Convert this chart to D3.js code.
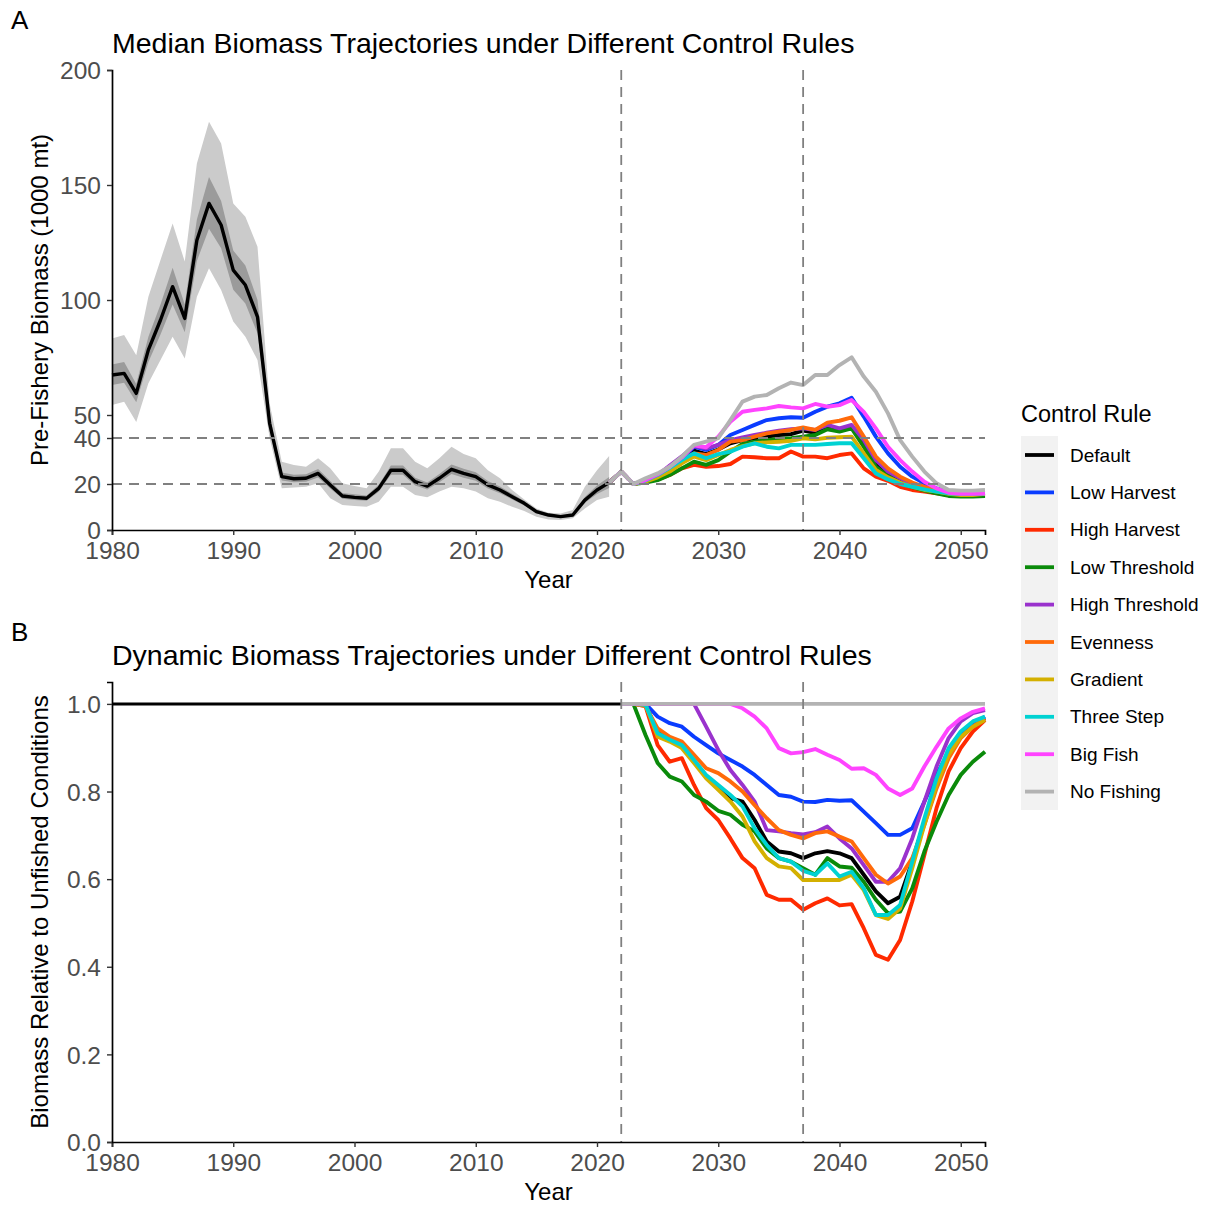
<!DOCTYPE html>
<html>
<head>
<meta charset="utf-8">
<script src="https://cdn.jsdelivr.net/npm/d3@7"></script>
<style>
  body { margin: 0; background: #fff; }
  svg { font-family: "Liberation Sans", Arial, Helvetica, sans-serif; }
</style>
</head>
<body>
<div id="chart"></div>
<script>
// ---- data ----
var histYears = d3.range(1980, 2022);
var histMedian = [67.4, 68.1, 59.4, 78.3, 91.3, 105.8, 92.0, 126.0, 142.0, 132.6, 113.0, 106.5, 92.7, 46.4, 23.2, 22.3, 22.5, 24.6, 19.6, 14.8, 14.2, 13.8, 18.1, 26.0, 26.0, 21.0, 19.1, 22.5, 26.4, 24.6, 23.2, 19.6, 17.4, 14.5, 11.6, 8.0, 6.5, 5.8, 6.5, 13.0, 17.4, 20.6];
var histOuterLow = [54.3, 55.8, 47.0, 63.8, 73.9, 84.0, 74.6, 101.4, 113.8, 104.3, 90.6, 84.0, 73.9, 40.0, 18.1, 18.5, 18.8, 20.3, 13.8, 10.9, 10.4, 10.1, 12.3, 18.8, 18.8, 15.2, 14.2, 16.7, 18.8, 18.1, 16.7, 13.8, 12.3, 10.1, 8.3, 5.8, 4.6, 4.3, 5.1, 9.4, 13.0, 14.5];
var histOuterHigh = [83.3, 84.8, 76.0, 101.4, 117.4, 133.3, 116.7, 159.4, 177.5, 168.0, 142.0, 136.2, 123.2, 55.0, 29.7, 28.3, 27.5, 31.2, 26.8, 20.3, 19.1, 18.1, 25.4, 35.5, 35.5, 29.7, 26.8, 31.2, 36.2, 33.0, 31.2, 26.0, 22.5, 17.4, 13.3, 9.4, 7.5, 7.2, 8.7, 18.8, 26.0, 32.2];
var histInnerLow = [63.0, 64.0, 55.5, 73.0, 85.0, 98.0, 86.0, 117.0, 131.0, 122.5, 104.5, 98.5, 85.5, 43.0, 21.5, 20.8, 21.0, 22.8, 18.0, 13.6, 13.0, 12.7, 16.6, 24.0, 24.0, 19.4, 17.6, 20.8, 24.3, 22.7, 21.4, 18.0, 16.0, 13.3, 10.7, 7.3, 5.9, 5.3, 5.9, 11.8, 15.6, 18.3];
var histInnerHigh = [72.0, 73.0, 63.5, 84.0, 98.0, 114.0, 98.0, 135.0, 153.5, 143.0, 121.5, 115.0, 100.0, 50.0, 25.0, 24.0, 24.2, 26.5, 21.3, 16.1, 15.5, 15.0, 19.7, 28.0, 28.0, 22.7, 20.7, 24.3, 28.5, 26.6, 25.1, 21.3, 18.9, 15.8, 12.6, 8.8, 7.1, 6.3, 7.1, 14.3, 19.4, 23.0];

// projections, panel A (1000 mt), 2021-2052
var projYearsA = d3.range(2021, 2053);
var defaultA = [20.6, 25.4, 20.0, 21.5, 23.5, 26.5, 30.5, 34.5, 33.0, 35.0, 37.7, 39.1, 39.9, 40.6, 41.3, 41.7, 43.2, 42.3, 44.2, 43.5, 44.9, 37.7, 29.0, 24.6, 21.7, 19.6, 18.1, 16.7, 15.7, 15.2, 15.2, 15.2];
var lowHarvestA = [20.6, 25.4, 20.0, 21.7, 23.9, 27.0, 31.0, 36.2, 34.8, 37.0, 41.3, 43.5, 45.7, 47.8, 48.6, 49.0, 48.8, 51.4, 53.6, 55.1, 57.5, 49.3, 40.6, 33.3, 27.5, 23.2, 20.3, 18.1, 16.7, 15.9, 15.9, 16.2];
var highHarvestA = [20.6, 25.4, 20.0, 21.0, 22.0, 23.9, 26.8, 28.3, 27.5, 27.8, 28.7, 31.9, 31.6, 31.2, 31.2, 34.1, 31.9, 31.9, 31.2, 32.6, 33.3, 26.8, 23.2, 21.4, 18.8, 17.4, 16.7, 15.9, 15.2, 14.8, 14.8, 15.2];
var lowThresholdA = [20.6, 25.4, 20.0, 20.6, 21.7, 23.9, 26.8, 29.7, 28.3, 30.4, 34.1, 37.4, 38.4, 39.1, 39.6, 39.9, 40.6, 41.3, 43.8, 42.8, 44.2, 36.2, 27.5, 23.5, 20.6, 18.6, 17.1, 15.9, 14.8, 14.5, 14.5, 14.8];
var highThresholdA = [20.6, 25.4, 20.0, 21.5, 23.9, 28.0, 32.0, 36.5, 35.5, 37.0, 39.1, 40.3, 41.3, 42.3, 43.2, 43.8, 44.2, 43.5, 45.7, 44.2, 45.7, 39.1, 30.4, 25.4, 22.5, 20.0, 18.6, 17.1, 16.2, 15.7, 15.7, 15.9];
var evennessA = [20.6, 25.4, 20.0, 21.3, 23.5, 26.8, 30.4, 33.3, 32.6, 34.8, 38.4, 39.1, 40.6, 42.0, 42.8, 43.5, 44.6, 43.5, 46.7, 47.5, 49.0, 40.6, 31.9, 26.8, 23.2, 20.6, 18.8, 17.4, 16.2, 15.7, 15.7, 15.9];
var gradientA = [20.6, 25.4, 20.0, 21.0, 22.9, 25.4, 29.0, 31.9, 30.4, 32.6, 34.8, 36.5, 37.7, 38.1, 38.4, 38.8, 39.9, 39.4, 40.1, 40.3, 40.6, 33.3, 26.1, 22.9, 20.6, 18.8, 17.4, 16.7, 15.7, 15.2, 15.2, 15.7];
var threeStepA = [20.6, 25.4, 20.0, 21.5, 23.9, 27.0, 30.4, 33.3, 31.2, 33.0, 34.1, 36.2, 37.7, 36.2, 35.5, 37.0, 37.0, 37.0, 37.4, 37.7, 37.7, 31.2, 24.6, 22.0, 20.0, 18.8, 17.7, 16.7, 15.9, 15.7, 15.7, 15.9];
var bigFishA = [20.6, 25.4, 20.0, 21.7, 24.2, 27.5, 31.5, 36.8, 36.0, 40.6, 47.1, 51.4, 52.2, 52.9, 53.9, 53.3, 52.9, 54.8, 53.6, 54.3, 56.5, 51.4, 44.2, 36.2, 30.4, 25.4, 21.0, 18.1, 16.2, 15.7, 15.7, 15.9];
var noFishingA = [20.6, 25.4, 20.0, 22.5, 24.6, 27.5, 31.9, 37.0, 38.4, 39.9, 47.8, 55.8, 58.0, 58.7, 61.6, 64.1, 63.0, 67.4, 67.4, 71.7, 75.1, 66.7, 60.1, 50.7, 39.1, 31.9, 25.4, 20.3, 17.4, 17.1, 17.1, 17.4];

// panel B: relative to unfished
var histRelYears = [1980, 2022];
var histRel = [1.0, 1.0];
var projYearsB = d3.range(2022, 2053);
var defaultB = [1.0, 1.0, 0.998, 0.935, 0.920, 0.907, 0.870, 0.835, 0.810, 0.785, 0.777, 0.735, 0.686, 0.663, 0.659, 0.648, 0.659, 0.664, 0.659, 0.648, 0.610, 0.572, 0.545, 0.560, 0.640, 0.731, 0.823, 0.891, 0.929, 0.952, 0.967];
var lowHarvestB = [1.0, 1.0, 1.0, 0.971, 0.956, 0.948, 0.925, 0.906, 0.887, 0.872, 0.857, 0.838, 0.815, 0.792, 0.788, 0.777, 0.776, 0.781, 0.779, 0.780, 0.754, 0.728, 0.701, 0.701, 0.716, 0.777, 0.838, 0.891, 0.929, 0.952, 0.971];
var highHarvestB = [1.0, 1.0, 0.995, 0.906, 0.868, 0.876, 0.815, 0.762, 0.735, 0.693, 0.648, 0.625, 0.564, 0.553, 0.553, 0.530, 0.545, 0.556, 0.540, 0.543, 0.488, 0.427, 0.416, 0.461, 0.549, 0.655, 0.762, 0.846, 0.899, 0.937, 0.963];
var lowThresholdB = [1.0, 1.0, 0.929, 0.865, 0.834, 0.823, 0.792, 0.777, 0.756, 0.747, 0.724, 0.709, 0.670, 0.648, 0.640, 0.625, 0.610, 0.648, 0.629, 0.626, 0.594, 0.553, 0.522, 0.526, 0.579, 0.663, 0.731, 0.792, 0.838, 0.868, 0.891];
var highThresholdB = [1.0, 1.0, 1.0, 1.0, 1.0, 1.0, 1.0, 0.948, 0.895, 0.849, 0.815, 0.777, 0.712, 0.709, 0.705, 0.702, 0.707, 0.720, 0.693, 0.670, 0.632, 0.594, 0.594, 0.625, 0.693, 0.777, 0.857, 0.922, 0.960, 0.979, 0.986];
var evennessB = [1.0, 1.0, 0.995, 0.944, 0.925, 0.914, 0.884, 0.853, 0.842, 0.823, 0.800, 0.769, 0.739, 0.712, 0.701, 0.693, 0.705, 0.709, 0.697, 0.686, 0.648, 0.610, 0.590, 0.606, 0.648, 0.724, 0.807, 0.876, 0.922, 0.948, 0.967];
var gradientB = [1.0, 1.0, 0.998, 0.925, 0.914, 0.899, 0.865, 0.830, 0.804, 0.777, 0.743, 0.686, 0.648, 0.629, 0.625, 0.598, 0.598, 0.598, 0.598, 0.610, 0.575, 0.518, 0.509, 0.533, 0.625, 0.724, 0.815, 0.884, 0.925, 0.948, 0.963];
var threeStepB = [1.0, 1.0, 0.998, 0.933, 0.918, 0.906, 0.872, 0.838, 0.815, 0.792, 0.766, 0.716, 0.678, 0.648, 0.640, 0.619, 0.610, 0.636, 0.606, 0.617, 0.579, 0.518, 0.518, 0.541, 0.640, 0.739, 0.830, 0.899, 0.937, 0.960, 0.971];
var bigFishB = [1.0, 1.0, 1.0, 1.0, 1.0, 1.0, 1.0, 1.0, 1.0, 1.0, 0.990, 0.971, 0.944, 0.899, 0.887, 0.890, 0.897, 0.884, 0.872, 0.852, 0.853, 0.838, 0.807, 0.792, 0.807, 0.857, 0.902, 0.944, 0.967, 0.982, 0.990];
var noFishingB = [1.0, 1.0, 1.0, 1.0, 1.0, 1.0, 1.0, 1.0, 1.0, 1.0, 1.0, 1.0, 1.0, 1.0, 1.0, 1.0, 1.0, 1.0, 1.0, 1.0, 1.0, 1.0, 1.0, 1.0, 1.0, 1.0, 1.0, 1.0, 1.0, 1.0, 1.0];

var rules = ["Default", "Low Harvest", "High Harvest", "Low Threshold", "High Threshold", "Evenness", "Gradient", "Three Step", "Big Fish", "No Fishing"];
var seriesA = [defaultA, lowHarvestA, highHarvestA, lowThresholdA, highThresholdA, evennessA, gradientA, threeStepA, bigFishA, noFishingA];
var seriesB = [defaultB, lowHarvestB, highHarvestB, lowThresholdB, highThresholdB, evennessB, gradientB, threeStepB, bigFishB, noFishingB];

var xTicks = [1980, 1990, 2000, 2010, 2020, 2030, 2040, 2050];
var yTicksA = [0, 20, 40, 50, 100, 150, 200];
var yTicksB = [0, 0.2, 0.4, 0.6, 0.8, 1.0];
var refLinesA = [20, 40];
var refYears = [2022, 2037];

// styling
var colors = ["#000000", "#0a3cff", "#ff2a00", "#0a8a0a", "#9a32cd", "#ff6a0a", "#d4b000", "#00d2d2", "#ff44ff", "#b3b3b3"];
var svgWidth = 1206, svgHeight = 1207;
var left = 112, right = 985;

var svg = d3.select("#chart").append("svg")
  .attr("width", svgWidth)
  .attr("height", svgHeight);

var x = d3.scaleLinear().domain([1980, 2052]).range([left, right]);

function drawAxes(y, top, bottom, yTicks, yFmt, yTitle) {
  var gx = svg.append("g")
    .attr("transform", `translate(0, ${bottom})`)
    .call(d3.axisBottom(x).tickValues(xTicks).tickSize(5).tickPadding(7).tickFormat(d3.format("d")));
  var gy = svg.append("g")
    .attr("transform", `translate(${left}, 0)`)
    .call(d3.axisLeft(y).tickValues(yTicks).tickSize(5).tickPadding(6).tickFormat(yFmt));
  [gx, gy].forEach(function(g) {
    g.select(".domain").attr("stroke", "#000").attr("stroke-width", 1.7);
    g.selectAll(".tick line").attr("stroke", "#333").attr("stroke-width", 1.4);
    g.selectAll(".tick text").attr("fill", "#4d4d4d").attr("font-size", "24.5px");
  });
  gy.selectAll(".tick text").attr("dy", "0.36em");

  svg.append("text")
    .attr("x", (left + right) / 2)
    .attr("y", bottom + 58)
    .attr("text-anchor", "middle")
    .attr("font-size", "24px")
    .attr("fill", "#000")
    .text("Year");

  svg.append("text")
    .attr("transform", `translate(48, ${(top + bottom) / 2}) rotate(-90)`)
    .attr("text-anchor", "middle")
    .attr("font-size", "24px")
    .attr("fill", "#000")
    .text(yTitle);
}

function dashed(x1, y1, x2, y2) {
  svg.append("line")
    .attr("x1", x1).attr("y1", y1).attr("x2", x2).attr("y2", y2)
    .attr("stroke", "#808080")
    .attr("stroke-width", 1.8)
    .attr("stroke-dasharray", "10,7");
}

// ================= Panel A =================
var yA = d3.scaleLinear().domain([0, 200]).range([530, 70]);

svg.append("text").attr("x", 11).attr("y", 29).attr("font-size", "26px").text("A");
svg.append("text").attr("x", left).attr("y", 53).attr("font-size", "28.5px").text("Median Biomass Trajectories under Different Control Rules");

var hist = histYears.map(function(yr, i) {
  return { year: yr, med: histMedian[i], lo: histOuterLow[i], hi: histOuterHigh[i], ilo: histInnerLow[i], ihi: histInnerHigh[i] };
});

svg.append("path")
  .datum(hist)
  .attr("fill", "#cbcbcb")
  .attr("d", d3.area().x(d => x(d.year)).y0(d => yA(d.lo)).y1(d => yA(d.hi)));

svg.append("path")
  .datum(hist)
  .attr("fill", "#9b9b9b")
  .attr("d", d3.area().x(d => x(d.year)).y0(d => yA(d.ilo)).y1(d => yA(d.ihi)));

svg.append("path")
  .datum(hist)
  .attr("fill", "none")
  .attr("stroke", "#000")
  .attr("stroke-width", 3.4)
  .attr("stroke-linejoin", "round")
  .attr("d", d3.line().x(d => x(d.year)).y(d => yA(d.med)));

var lineA = d3.line().x((d, i) => x(projYearsA[i])).y(d => yA(d));
seriesA.forEach(function(s, k) {
  svg.append("path")
    .datum(s)
    .attr("fill", "none")
    .attr("stroke", colors[k])
    .attr("stroke-width", 3.9)
    .attr("stroke-linejoin", "round")
    .attr("d", lineA);
});

refLinesA.forEach(function(v) { dashed(left, yA(v), right, yA(v)); });
refYears.forEach(function(yr) { dashed(x(yr), 70, x(yr), 530); });

drawAxes(yA, 70, 530, yTicksA, d3.format("d"), "Pre-Fishery Biomass (1000 mt)");

// ================= Panel B =================
var yB = d3.scaleLinear().domain([0, 1.05]).range([1142, 682]);

svg.append("text").attr("x", 11).attr("y", 641).attr("font-size", "26px").text("B");
svg.append("text").attr("x", left).attr("y", 665).attr("font-size", "28.5px").text("Dynamic Biomass Trajectories under Different Control Rules");

svg.append("path")
  .datum(histRel)
  .attr("fill", "none")
  .attr("stroke", "#000")
  .attr("stroke-width", 3)
  .attr("d", d3.line().x((d, i) => x(histRelYears[i])).y(d => yB(d)));

var lineB = d3.line().x((d, i) => x(projYearsB[i])).y(d => yB(d));
seriesB.forEach(function(s, k) {
  svg.append("path")
    .datum(s)
    .attr("fill", "none")
    .attr("stroke", colors[k])
    .attr("stroke-width", 3.9)
    .attr("stroke-linejoin", "round")
    .attr("d", lineB);
});

refYears.forEach(function(yr) { dashed(x(yr), 682, x(yr), 1142); });

drawAxes(yB, 682, 1142, yTicksB, d3.format(".1f"), "Biomass Relative to Unfished Conditions");

// ================= Legend =================
var legend = svg.append("g").attr("transform", "translate(1021, 0)");
legend.append("text").attr("x", 0).attr("y", 422).attr("font-size", "23.5px").text("Control Rule");
legend.append("rect")
  .attr("x", 0).attr("y", 436).attr("width", 37).attr("height", 374)
  .attr("fill", "#f2f2f2");
rules.forEach(function(r, k) {
  var yy = 455 + k * 37.4;
  legend.append("line")
    .attr("x1", 4).attr("x2", 33).attr("y1", yy).attr("y2", yy)
    .attr("stroke", colors[k]).attr("stroke-width", 3.8);
  legend.append("text")
    .attr("x", 49).attr("y", yy + 6.5)
    .attr("font-size", "19px")
    .text(r);
});
</script>
</body>
</html>
